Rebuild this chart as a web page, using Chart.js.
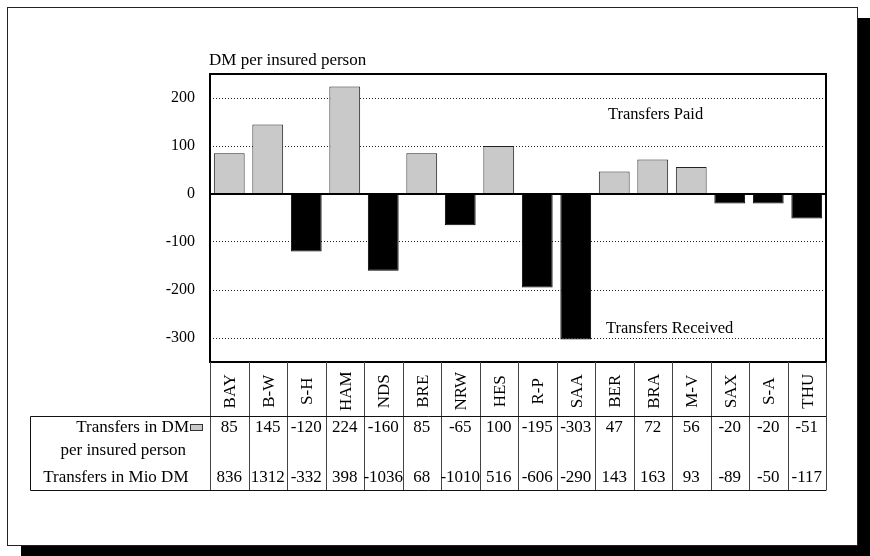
<!DOCTYPE html>
<html>
<head>
<meta charset="utf-8">
<title>Risk structure compensation by federal state</title>
<script src="https://cdn.jsdelivr.net/npm/chart.js@4/dist/chart.umd.min.js"></script>
<style>
  html, body { margin: 0; padding: 0; background: #fff; }
  #wrap { width: 870px; height: 556px; position: relative; }
</style>
</head>
<body>
<div id="wrap"><canvas id="c" width="870" height="556"></canvas></div>
<script>
// Federal states (abbreviated)
const states = ['BAY', 'B-W', 'S-H', 'HAM', 'NDS', 'BRE', 'NRW', 'HES', 'R-P', 'SAA', 'BER', 'BRA', 'M-V', 'SAX', 'S-A', 'THU'];
// Transfers in DM per insured person
const perInsured = [85, 145, -120, 224, -160, 85, -65, 100, -195, -303, 47, 72, 56, -20, -20, -51];
// Transfers in million DM
const mioDM = [836, 1312, -332, 398, -1036, 68, -1010, 516, -606, -290, 143, 163, 93, -89, -50, -117];
// Value axis ticks
const yTicks = [200, 100, 0, -100, -200, -300];

const axisTitle = 'DM per insured person';
const notePaid = 'Transfers Paid';
const noteReceived = 'Transfers Received';
const rowLabels = ['Transfers in DM', 'per insured person', 'Transfers in Mio DM'];

const SERIF = "'Liberation Serif', 'Times New Roman', Times, serif";
const GREY = '#c9c9c9';

// Draws the framed page, plot border, zero line, notes and the data table
const tablePlugin = {
  id: 'tablePlugin',
  beforeDraw(chart) {
    const ctx = chart.ctx;
    ctx.save();
    ctx.fillStyle = '#fff';
    ctx.fillRect(0, 0, chart.width, chart.height);
    // drop shadow
    ctx.fillStyle = '#000';
    ctx.fillRect(21, 18, chart.width - 21, chart.height - 18);
    // page frame
    ctx.fillStyle = '#fff';
    ctx.fillRect(7, 7, 851, 539);
    ctx.strokeStyle = '#222';
    ctx.lineWidth = 1;
    ctx.strokeRect(7.5, 7.5, 850, 538);
    ctx.restore();
  },
  afterDatasetsDraw(chart) {
    const ctx = chart.ctx;
    const a = chart.chartArea;
    const ys = chart.scales.y;
    ctx.save();
    // zero line
    const y0 = ys.getPixelForValue(0);
    ctx.strokeStyle = '#000';
    ctx.lineWidth = 2;
    ctx.beginPath();
    ctx.moveTo(a.left, y0);
    ctx.lineTo(a.right, y0);
    ctx.stroke();
    // plot border
    ctx.strokeRect(a.left, a.top, a.right - a.left, a.bottom - a.top);
    ctx.restore();
  },
  afterDraw(chart) {
    const ctx = chart.ctx;
    const a = chart.chartArea;
    const xs = chart.scales.x;
    const ys = chart.scales.y;
    const colW = xs.getPixelForValue(1) - xs.getPixelForValue(0);
    const tableTop = 416.5, tableBottom = 490.5, tableLeft = 30.5;

    ctx.save();
    ctx.fillStyle = '#000';
    ctx.font = '17px ' + SERIF;

    // axis title
    ctx.textAlign = 'left';
    ctx.textBaseline = 'alphabetic';
    ctx.fillText(axisTitle, a.left - 1, 64.5);

    // notes inside the plot
    ctx.font = '16.5px ' + SERIF;
    ctx.fillText(notePaid, a.left + 398, ys.getPixelForValue(0) - 75);
    ctx.fillText(noteReceived, a.left + 396, ys.getPixelForValue(0) + 138.5);

    // column dividers through label row and table
    ctx.strokeStyle = '#444';
    ctx.lineWidth = 1;
    ctx.beginPath();
    for (let i = 0; i <= states.length; i++) {
      const x = Math.round(xs.getPixelForValue(i) - colW / 2) + 0.5;
      ctx.moveTo(x, a.bottom);
      ctx.lineTo(x, tableBottom);
    }
    ctx.stroke();

    // table outline
    ctx.strokeStyle = '#111';
    ctx.beginPath();
    ctx.moveTo(tableLeft, tableTop);
    ctx.lineTo(a.right, tableTop);
    ctx.moveTo(tableLeft, tableBottom);
    ctx.lineTo(a.right, tableBottom);
    ctx.moveTo(tableLeft, tableTop);
    ctx.lineTo(tableLeft, tableBottom);
    ctx.stroke();

    // rotated category labels
    ctx.font = '17px ' + SERIF;
    ctx.textAlign = 'center';
    ctx.textBaseline = 'alphabetic';
    const labelMid = (a.bottom + tableTop) / 2 + 2;
    states.forEach((s, i) => {
      const cx = xs.getPixelForValue(i);
      ctx.save();
      ctx.translate(cx + 5.8, labelMid);
      ctx.rotate(-Math.PI / 2);
      ctx.fillText(s, 0, 0);
      ctx.restore();
    });

    // row labels
    ctx.textAlign = 'right';
    ctx.fillText(rowLabels[0], 189, 432);
    ctx.fillText(rowLabels[1], 186, 455);
    ctx.fillText(rowLabels[2], 188.5, 482);

    // legend swatch
    ctx.fillStyle = GREY;
    ctx.fillRect(190.5, 424.5, 12, 6);
    ctx.strokeStyle = '#333';
    ctx.strokeRect(190.5, 424.5, 12, 6);

    // table values
    ctx.fillStyle = '#000';
    ctx.textAlign = 'center';
    states.forEach((s, i) => {
      const cx = xs.getPixelForValue(i);
      ctx.fillText(String(perInsured[i]), cx, 432);
      ctx.fillText(String(mioDM[i]), cx, 481.5);
    });
    ctx.restore();
  }
};

new Chart(document.getElementById('c'), {
  type: 'bar',
  data: {
    labels: states,
    datasets: [{
      label: 'Transfers in DM per insured person',
      data: perInsured,
      backgroundColor: ctx => (ctx.raw >= 0 ? GREY : '#000'),
      borderColor: ctx => (ctx.raw >= 0 ? '#222' : '#000'),
      borderWidth: 1,
      borderSkipped: 'start',
      barPercentage: 0.8,
      categoryPercentage: 1.0
    }]
  },
  options: {
    responsive: false,
    animation: false,
    devicePixelRatio: 1,
    layout: { padding: { top: 74, right: 44, bottom: 194, left: 0 } },
    plugins: {
      legend: { display: false },
      tooltip: { enabled: false },
      title: { display: false }
    },
    scales: {
      x: {
        type: 'category',
        display: false,
        offset: true,
        grid: { display: false }
      },
      y: {
        min: -350,
        max: 250,
        afterBuildTicks: s => { s.ticks = yTicks.map(v => ({ value: v })); },
        afterFit: s => { s.width = 210; },
        ticks: {
          font: { family: SERIF, size: 16 },
          color: '#000',
          padding: 15
        },
        grid: {
          drawTicks: false,
          color: ctx => (ctx.tick && ctx.tick.value === 0 ? 'rgba(0,0,0,0)' : '#222'),
          lineWidth: 1
        },
        border: { display: false, dash: [1, 2] }
      }
    }
  },
  plugins: [tablePlugin]
});
</script>
</body>
</html>
